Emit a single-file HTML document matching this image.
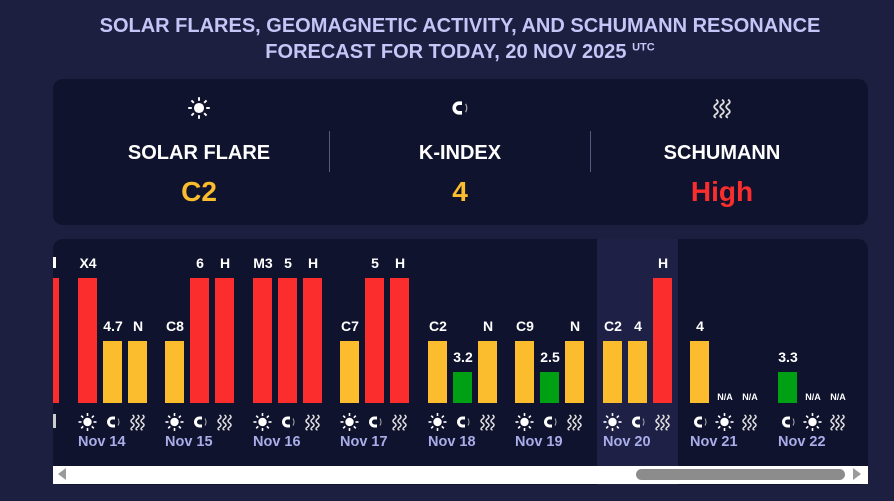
<!DOCTYPE html>
<html><head><meta charset="utf-8"><style>
*{margin:0;padding:0;box-sizing:border-box}
body{width:894px;height:501px;background:#1d1f41;font-family:"Liberation Sans",Arial,sans-serif;position:relative;overflow:hidden}
.a{position:absolute}
.t{position:absolute;left:0;width:920px;text-align:center;color:#c3c6f6;font-weight:bold;font-size:20px}
.card{position:absolute;left:53px;width:815px;background:#10132e;border-radius:10px}
.col{position:absolute;width:260px;text-align:center}
.lab{font-weight:bold;color:#fff;font-size:20px}
.val{font-weight:bold;font-size:28px}
.bar{position:absolute;width:19px;bottom:98px}
.v{position:absolute;width:40px;text-align:center;font-weight:bold;color:#fff;font-size:14px}
.na{position:absolute;width:30px;text-align:center;font-weight:bold;color:#fff;font-size:9px;top:392px}
.d{position:absolute;font-weight:bold;color:#a9ade9;font-size:14.5px;top:434px}
</style></head><body>
<div class="t" style="top:15px">SOLAR FLARES, GEOMAGNETIC ACTIVITY, AND SCHUMANN RESONANCE</div>
<div class="t" style="top:41px">FORECAST FOR TODAY, 20 NOV 2025 <sup style="font-size:11px">UTC</sup></div>
<div class="card" style="top:79px;height:146px"></div>
<div class="a" style="left:329px;top:131px;width:1px;height:41px;background:#555a80"></div>
<div class="a" style="left:590px;top:131px;width:1px;height:41px;background:#555a80"></div>
<svg class="a" style="left:0;top:0" width="894" height="501">
<defs>
<g id="sun"><circle r="4.2" fill="#fff"/><g stroke="#fff" stroke-width="1.6"><line x1="6" y1="0" x2="9" y2="0"/><line x1="-6" y1="0" x2="-9" y2="0"/><line x1="0" y1="6" x2="0" y2="9"/><line x1="0" y1="-6" x2="0" y2="-9"/><line x1="4.3" y1="4.3" x2="6.3" y2="6.3"/><line x1="-4.3" y1="4.3" x2="-6.3" y2="6.3"/><line x1="4.3" y1="-4.3" x2="6.3" y2="-6.3"/><line x1="-4.3" y1="-4.3" x2="-6.3" y2="-6.3"/></g></g>
<g id="mag"><path d="M2.5,-4 L0,-4 A4,4 0 0 0 0,4 L2.5,4" fill="none" stroke="#fff" stroke-width="3"/><path d="M5.5,-3.5 Q7.5,0 5.5,3.5" fill="none" stroke="#aaa" stroke-width="1"/></g>
<g id="wav" fill="none" stroke="#ddd" stroke-width="1.5"><path d="M-5,-7 q3,2 0,4 q-3,2 0,4 q3,2 0,4 q-3,2 0,3"/><path d="M0,-7 q3,2 0,4 q-3,2 0,4 q3,2 0,4 q-3,2 0,3"/><path d="M5,-7 q3,2 0,4 q-3,2 0,4 q3,2 0,4 q-3,2 0,3"/></g>
</defs>
<use href="#sun" transform="translate(199,108) scale(1.2)"/><use href="#mag" transform="translate(459,108) scale(1.2)"/><use href="#wav" transform="translate(722,108) scale(1.2)"/>
</svg>
<div class="col lab" style="left:69px;top:142px">SOLAR FLARE</div>
<div class="col lab" style="left:330px;top:142px">K-INDEX</div>
<div class="col lab" style="left:592px;top:142px">SCHUMANN</div>
<div class="col val" style="left:69px;top:176px;color:#fbbd2d">C2</div>
<div class="col val" style="left:330px;top:176px;color:#fbbd2d">4</div>
<div class="col val" style="left:592px;top:176px;color:#fb2d2d">High</div>

<div class="card" style="top:239px;height:246px;overflow:hidden">
<div class="a" style="left:544px;top:0;width:81px;height:246px;background:#1e2045"></div>
</div>
<div id="bars"></div>
<div class="a" style="left:53px;top:466px;width:815px;height:18px;background:#fff"></div>
<div class="a" style="left:636px;top:469px;width:209px;height:11px;background:#8c8c8c;border-radius:6px"></div>
<div class="a" style="left:58px;top:468px;width:0;height:0;border-top:6px solid transparent;border-bottom:6px solid transparent;border-right:8px solid #9a9a9a"></div>
<div class="a" style="left:853px;top:468px;width:0;height:0;border-top:6px solid transparent;border-bottom:6px solid transparent;border-left:8px solid #9a9a9a"></div>
<script>
var R='#fb2d2d',Y='#fbbd2d',G='#00a014';
var H={r:125,y:62,g:31};
var groups=[
['Nov 13',[['',R,'r','sun'],['',R,'r','mag'],['',R,'r','wav']],-10],
['Nov 14',[['X4',R,'r','sun'],['4.7',Y,'y','mag'],['N',Y,'y','wav']],78],
['Nov 15',[['C8',Y,'y','sun'],['6',R,'r','mag'],['H',R,'r','wav']],165],
['Nov 16',[['M3',R,'r','sun'],['5',R,'r','mag'],['H',R,'r','wav']],253],
['Nov 17',[['C7',Y,'y','sun'],['5',R,'r','mag'],['H',R,'r','wav']],340],
['Nov 18',[['C2',Y,'y','sun'],['3.2',G,'g','mag'],['N',Y,'y','wav']],428],
['Nov 19',[['C9',Y,'y','sun'],['2.5',G,'g','mag'],['N',Y,'y','wav']],515],
['Nov 20',[['C2',Y,'y','sun'],['4',Y,'y','mag'],['H',R,'r','wav']],603],
['Nov 21',[['4',Y,'y','mag'],['N/A',null,'','sun'],['N/A',null,'','wav']],690],
['Nov 22',[['3.3',G,'g','mag'],['N/A',null,'','sun'],['N/A',null,'','wav']],778]];
var h='',s='';
groups.forEach(function(g){g[1].forEach(function(b,i){var x=g[2]+i*25;
 if(x+19<53)return;
 if(b[1]){var ht=H[b[2]];var cx=Math.max(x,53);
  h+='<div class="bar" style="left:'+cx+'px;width:'+(x+19-cx)+'px;height:'+ht+'px;background:'+b[1]+'"></div>';
  if(b[0]&&x>=53)h+='<div class="v" style="left:'+(x-10)+'px;top:'+(403-ht-23)+'px">'+b[0]+'</div>';
  else if(x<53)h+='<div class="a" style="left:53px;top:257px;width:3px;height:11px;background:#fff"></div><div class="a" style="left:53px;top:414px;width:3px;height:14px;background:#ccc"></div>';
 } else h+='<div class="na" style="left:'+(x-5)+'px">N/A</div>';
 if(x>=53)s+='<use href="#'+b[3]+'" x="'+(x+9.5)+'" y="422"/>';
 });
 if(g[2]>=53)h+='<div class="d" style="left:'+g[2]+'px">'+g[0]+'</div>';
});
document.getElementById('bars').innerHTML=h+'<svg class="a" style="left:0;top:0" width="894" height="501">'+s+'</svg>';
</script>
</body></html>
